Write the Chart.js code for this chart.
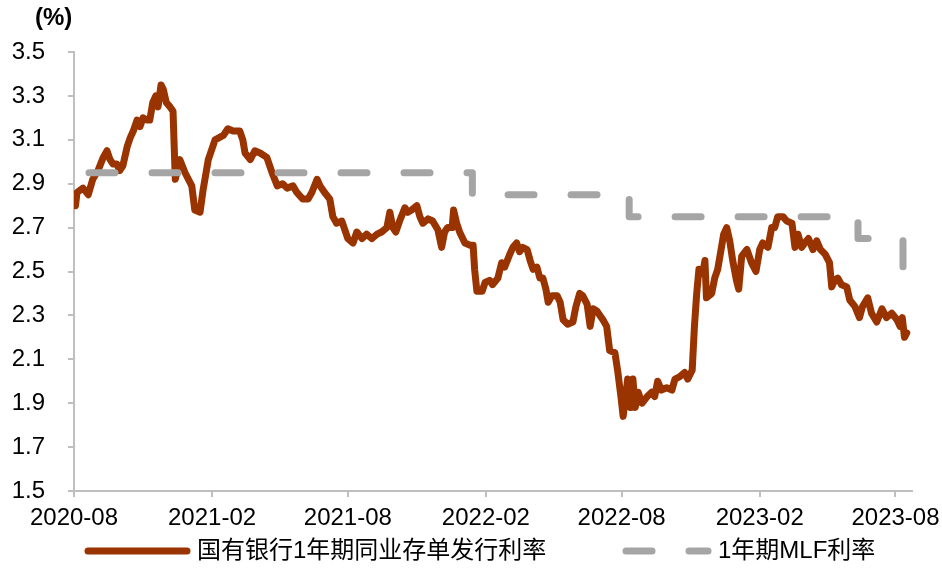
<!DOCTYPE html>
<html>
<head>
<meta charset="utf-8">
<title>同业存单发行利率与MLF利率</title>
<script src="https://cdn.jsdelivr.net/npm/chart.js"></script>
<style>
  html, body { margin: 0; padding: 0; background: #fff; }
</style>
</head>
<body>
<canvas id="myChart" width="942" height="582"></canvas>
<script>
/* ---------- data ---------- */
const cdLabel = '国有银行1年期同业存单发行利率'
const mlfLabel = '1年期MLF利率'

const cdDates = [
  '2020-08-03','2020-08-05','2020-08-09','2020-08-13','2020-08-20','2020-08-26','2020-09-02','2020-09-09',
  '2020-09-14','2020-09-18','2020-09-22','2020-09-27','2020-10-01','2020-10-05','2020-10-11','2020-10-15',
  '2020-10-19','2020-10-24','2020-10-28','2020-11-01','2020-11-06','2020-11-10','2020-11-14','2020-11-18',
  '2020-11-21','2020-11-25','2020-11-28','2020-12-02','2020-12-07','2020-12-11','2020-12-14','2020-12-20',
  '2020-12-27','2021-01-05','2021-01-09','2021-01-16','2021-01-20','2021-01-27','2021-02-05','2021-02-16',
  '2021-02-22','2021-03-01','2021-03-10','2021-03-14','2021-03-17','2021-03-24','2021-03-30','2021-04-06',
  '2021-04-15','2021-04-22','2021-04-29','2021-05-06','2021-05-12','2021-05-20','2021-05-25','2021-06-02',
  '2021-06-09','2021-06-14','2021-06-21','2021-06-25','2021-07-01','2021-07-08','2021-07-12','2021-07-17',
  '2021-07-24','2021-07-28','2021-08-01','2021-08-08','2021-08-13','2021-08-20','2021-08-26','2021-09-02',
  '2021-09-09','2021-09-15','2021-09-22','2021-09-26','2021-09-30','2021-10-04','2021-10-09','2021-10-16',
  '2021-10-20','2021-10-25','2021-11-01','2021-11-05','2021-11-09','2021-11-16','2021-11-22','2021-11-29',
  '2021-12-04','2021-12-08','2021-12-12','2021-12-18','2021-12-20','2021-12-24','2021-12-28','2022-01-04',
  '2022-01-11','2022-01-15','2022-01-17','2022-01-20','2022-01-27','2022-01-31','2022-02-06','2022-02-10',
  '2022-02-17','2022-02-22','2022-02-26','2022-03-05','2022-03-09','2022-03-14','2022-03-18','2022-03-22',
  '2022-03-28','2022-04-01','2022-04-05','2022-04-10','2022-04-14','2022-04-18','2022-04-22','2022-04-25',
  '2022-04-30','2022-05-07','2022-05-11','2022-05-15','2022-05-21','2022-05-28','2022-06-01','2022-06-06',
  '2022-06-10','2022-06-16','2022-06-20','2022-06-24','2022-06-29','2022-07-03','2022-07-07','2022-07-12',
  '2022-07-16','2022-07-23','2022-07-27','2022-07-31','2022-08-03','2022-08-07','2022-08-09','2022-08-13',
  '2022-08-16','2022-08-19','2022-08-23','2022-08-28','2022-09-04','2022-09-10','2022-09-14','2022-09-18',
  '2022-09-23','2022-09-30','2022-10-07','2022-10-11','2022-10-17','2022-10-24','2022-10-28','2022-11-03',
  '2022-11-06','2022-11-09','2022-11-12','2022-11-17','2022-11-20','2022-11-22','2022-11-29','2022-12-03',
  '2022-12-07','2022-12-12','2022-12-15','2022-12-19','2022-12-23','2022-12-27','2023-01-01','2023-01-04',
  '2023-01-08','2023-01-15','2023-01-21','2023-01-27','2023-02-01','2023-02-05','2023-02-12','2023-02-17',
  '2023-02-21','2023-02-25','2023-03-04','2023-03-09','2023-03-16','2023-03-20','2023-03-24','2023-03-29',
  '2023-04-02','2023-04-07','2023-04-13','2023-04-18','2023-04-23','2023-04-29','2023-05-05','2023-05-08',
  '2023-05-12','2023-05-16','2023-05-21','2023-05-28','2023-06-01','2023-06-08','2023-06-14','2023-06-18',
  '2023-06-25','2023-06-30','2023-07-07','2023-07-14','2023-07-20','2023-07-27','2023-08-03','2023-08-07',
  '2023-08-10','2023-08-13','2023-08-16'
]
const cdRates = [
  2.80,2.86,2.87,2.88,2.85,2.92,2.96,3.02,
  3.05,3.01,2.99,2.99,2.96,2.98,3.07,3.11,
  3.14,3.19,3.16,3.20,3.19,3.19,3.27,3.30,
  3.25,3.35,3.33,3.27,3.25,3.23,2.92,3.01,
  2.95,2.89,2.78,2.77,2.87,3.01,3.10,3.12,
  3.15,3.14,3.14,3.10,3.04,3.01,3.05,3.04,
  3.02,2.95,2.89,2.90,2.88,2.89,2.86,2.83,
  2.83,2.86,2.92,2.89,2.86,2.83,2.75,2.72,
  2.73,2.69,2.65,2.63,2.68,2.65,2.67,2.65,
  2.67,2.68,2.70,2.77,2.70,2.68,2.73,2.79,
  2.77,2.78,2.80,2.75,2.72,2.74,2.73,2.69,
  2.61,2.68,2.70,2.70,2.78,2.72,2.68,2.63,
  2.62,2.62,2.51,2.41,2.41,2.45,2.46,2.44,
  2.47,2.54,2.52,2.58,2.61,2.63,2.59,2.61,
  2.60,2.55,2.51,2.52,2.47,2.47,2.42,2.36,
  2.39,2.39,2.36,2.28,2.26,2.27,2.34,2.40,
  2.39,2.35,2.25,2.33,2.32,2.30,2.28,2.25,
  2.14,2.13,2.04,1.93,1.84,1.95,2.01,1.88,
  2.01,1.88,1.95,1.90,1.93,1.95,1.93,2.00,
  1.96,1.97,1.96,2.01,2.02,2.04,2.01,2.05,
  2.25,2.40,2.51,2.49,2.55,2.38,2.40,2.47,
  2.51,2.61,2.67,2.70,2.64,2.55,2.46,2.42,
  2.57,2.60,2.54,2.50,2.60,2.63,2.61,2.70,
  2.70,2.75,2.75,2.73,2.72,2.61,2.67,2.61,
  2.63,2.65,2.60,2.64,2.60,2.58,2.54,2.43,
  2.46,2.47,2.44,2.43,2.37,2.34,2.29,2.34,
  2.38,2.31,2.27,2.33,2.29,2.31,2.28,2.25,
  2.29,2.20,2.22
]

// MLF: value holds until the next date (step line)
const mlfDates = ['2020-08-21','2022-01-14','2022-08-11','2023-06-12','2023-08-11','2023-08-16']
const mlfRates = [2.95, 2.85, 2.75, 2.65, 2.50, 2.50]

const tickMonths = ['2020-08','2021-02','2021-08','2022-02','2022-08','2023-02','2023-08']
const xEnd = '2023-08-23'
const yMin = 1.5
const yMax = 3.5
const yStep = 0.2

/* ---------- helpers ---------- */
function dayOf(s){
    const p = s.split('-').map(Number)
    return (Date.UTC(p[0], p[1] - 1, p[2] || 1) - Date.UTC(2020, 7, 1)) / 86400000
}

const fontFamily = "'Liberation Sans', Arial, 'Noto Sans CJK SC', sans-serif"
const axisGray = '#BFBFBF'

// legend + unit label drawn on the canvas
const bottomLegend = {
    id: 'bottomLegend',
    afterDraw(chart, args, opts){
        const ctx = chart.ctx
        ctx.save()
        ctx.font = opts.font
        ctx.textBaseline = 'middle'
        ctx.fillStyle = '#000'
        chart.data.datasets.forEach((ds, i) => {
            const it = opts.items[i]
            ctx.strokeStyle = ds.borderColor
            ctx.lineWidth = ds.borderWidth
            ctx.lineCap = 'round'
            ctx.setLineDash(ds.borderDash || [])
            ctx.beginPath()
            ctx.moveTo(it.x, opts.y)
            ctx.lineTo(it.x + it.w, opts.y)
            ctx.stroke()
            ctx.setLineDash([])
            ctx.fillText(ds.label, it.x + it.w + opts.gap, opts.y)
        })
        ctx.font = opts.unitFont
        ctx.fillText('(%)', opts.unitX, opts.unitY)
        ctx.restore()
    }
}

/* ---------- chart ---------- */
const data = {
    datasets: [{
        label: cdLabel,
        data: cdDates.map((d, i) => ({ x: dayOf(d), y: cdRates[i] })),
        borderColor: '#993300',
        backgroundColor: '#993300',
        borderWidth: 7,
        borderJoinStyle: 'round',
        borderCapStyle: 'round',
        pointRadius: 0,
        tension: 0,
        order: 1
    }, {
        label: mlfLabel,
        data: mlfDates.map((d, i) => ({ x: dayOf(d), y: mlfRates[i] })),
        stepped: 'before',
        borderColor: '#A5A5A5',
        backgroundColor: '#A5A5A5',
        borderWidth: 7,
        borderDash: [26, 37],
        borderJoinStyle: 'round',
        borderCapStyle: 'round',
        pointRadius: 0,
        order: 0
    }]
}

const config = {
    type: 'line',
    data: data,
    options: {
        responsive: false,
        animation: false,
        layout: { padding: { left: 0, right: 30, top: 52, bottom: 0 } },
        plugins: {
            legend: { display: false },
            tooltip: { enabled: false },
            bottomLegend: {
                font: '24px ' + fontFamily,
                unitFont: 'bold 24px ' + fontFamily,
                unitX: 35,
                unitY: 18,
                y: 551,
                gap: 10,
                items: [{ x: 88, w: 99 }, { x: 626, w: 82 }]
            }
        },
        scales: {
            x: {
                type: 'linear',
                min: 0,
                max: dayOf(xEnd),
                afterBuildTicks: (scale) => {
                    scale.ticks = tickMonths.map(m => ({ value: dayOf(m) }))
                },
                afterFit: (scale) => {
                    scale.height = 91
                    scale.paddingLeft = 0
                    scale.paddingRight = 0
                },
                ticks: {
                    autoSkip: false,
                    maxRotation: 0,
                    padding: 7,
                    color: '#000',
                    font: { family: fontFamily, size: 24 },
                    callback: (v, i) => tickMonths[i]
                },
                grid: { drawOnChartArea: false, drawTicks: true, tickLength: 6, color: axisGray, lineWidth: 2 },
                border: { color: axisGray, width: 2 }
            },
            y: {
                min: yMin,
                max: yMax,
                afterFit: (scale) => { scale.width = 74 },
                ticks: {
                    stepSize: yStep,
                    padding: 23,
                    color: '#000',
                    font: { family: fontFamily, size: 24 },
                    callback: (v) => v.toFixed(1)
                },
                grid: { drawOnChartArea: false, drawTicks: true, tickLength: 6, color: axisGray, lineWidth: 2 },
                border: { color: axisGray, width: 2 }
            }
        }
    },
    plugins: [bottomLegend]
}

const myChart = new Chart(document.getElementById('myChart'), config)
</script>
</body>
</html>
